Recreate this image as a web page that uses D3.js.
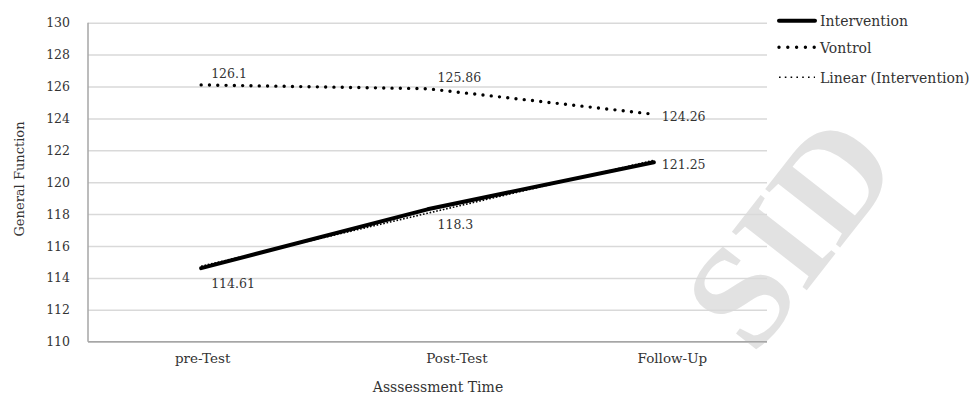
<!DOCTYPE html>
<html>
<head>
<meta charset="utf-8">
<script src="https://cdn.jsdelivr.net/npm/d3@7"></script>
<style>
  body { margin: 0; background: #fff; }
  svg { display: block; }
</style>
</head>
<body>
<svg id="chart" width="978" height="397"></svg>
<script>
// ---- data ----
const categories = ["pre-Test", "Post-Test", "Follow-Up"];
const interventionValues = [114.61, 118.3, 121.25];
const controlValues = [126.1, 125.86, 124.26];
const yTickValues = [110, 112, 114, 116, 118, 120, 122, 124, 126, 128, 130];
const seriesNames = ["Intervention", "Vontrol", "Linear (Intervention)"];
const yAxisTitle = "General Function";
const xAxisTitle = "Asssessment Time";

// least-squares trend of the intervention series over the category index
function linearTrend(values) {
  const xs = values.map((_, i) => i + 1);
  const mx = d3.mean(xs), my = d3.mean(values);
  const slope = d3.sum(xs, (x, i) => (x - mx) * (values[i] - my)) / d3.sum(xs, x => (x - mx) ** 2);
  return xs.map(x => my + slope * (x - mx));
}
const trendValues = linearTrend(interventionValues);

// ---- layout ----
const svg = d3.select("#chart");
const plot = { left: 88, right: 767, top: 22.7, bottom: 341.7 };
const serif = "'DejaVu Serif', 'Liberation Serif', serif";
const textColor = "#333";

const x = d3.scalePoint().domain(categories).range([plot.left, plot.right]).padding(0.5);
const y = d3.scaleLinear().domain([110, 130]).range([plot.bottom, plot.top]);

// faint watermark behind the chart
svg.append("text")
  .attr("transform", "translate(790,232) rotate(-52)")
  .attr("text-anchor", "middle")
  .attr("dominant-baseline", "central")
  .attr("fill", "#e2e2e2")
  .style("font-family", "'Liberation Serif', serif").style("font-weight", "bold").style("font-size", "145px")
  .text("SID");

// gridlines + y tick labels
const yAxis = svg.append("g")
  .attr("transform", `translate(${plot.left},0)`)
  .call(d3.axisLeft(y).tickValues(yTickValues).tickSize(-(plot.right - plot.left)).tickPadding(18).tickFormat(d3.format("d")));
yAxis.select(".domain").remove();
yAxis.selectAll(".tick line").attr("stroke", "#d9d9d9").attr("stroke-width", 1.5);
yAxis.selectAll(".tick text").attr("fill", textColor).style("font-family", serif).style("font-size", "12.5px");

// vertical axis line
svg.append("line").attr("x1", plot.left).attr("x2", plot.left).attr("y1", plot.top).attr("y2", plot.bottom)
  .attr("stroke", "#a6a6a6").attr("stroke-width", 1.5);

// x axis with category labels
const labelShift = [1, 29, 18];
const xAxis = svg.append("g")
  .attr("transform", `translate(0,${plot.bottom})`)
  .call(d3.axisBottom(x).tickSize(0).tickPadding(12));
xAxis.select(".domain").attr("stroke", "#a6a6a6").attr("stroke-width", 1.5)
  .attr("d", `M${plot.left},0H${plot.right}`);
xAxis.selectAll(".tick text")
  .attr("fill", textColor)
  .attr("dx", (d, i) => labelShift[i])
  .style("font-family", serif).style("font-size", "13.5px");

// axis titles
svg.append("text").attr("x", 438).attr("y", 392).attr("text-anchor", "middle")
  .attr("fill", textColor).style("font-family", serif).style("font-size", "14px").text(xAxisTitle);
svg.append("text").attr("transform", "translate(24,179) rotate(-90)").attr("text-anchor", "middle")
  .attr("fill", textColor).style("font-family", serif).style("font-size", "13px").text(yAxisTitle);

// ---- series ----
const styles = [
  { values: interventionValues, width: 4, dash: null, cap: "round", legendDash: null },
  { values: controlValues, width: 3.4, dash: "0 8.3", cap: "round", legendDash: "0 8.8" },
  { values: trendValues, width: 1.6, dash: "1.6 1.8", cap: "butt", legendDash: "1.6 4.2" }
];
const line = d3.line().x((d, i) => x(categories[i])).y(d => y(d));

[styles[1], styles[0], styles[2]].forEach(s => {
  svg.append("path")
    .attr("d", line(s.values))
    .attr("fill", "none")
    .attr("stroke", "#000")
    .attr("stroke-width", s.width)
    .attr("stroke-linecap", s.cap)
    .attr("stroke-linejoin", "round")
    .attr("stroke-dasharray", s.dash);
});

// data labels
const labelPlacement = [
  { values: interventionValues, pos: ["below", "below", "right"] },
  { values: controlValues, pos: ["above", "above", "right"] }
];
labelPlacement.forEach(sp => {
  sp.values.forEach((v, i) => {
    const px = x(categories[i]), py = y(v), p = sp.pos[i];
    svg.append("text")
      .attr("x", p === "right" ? px + 8 : px + 10)
      .attr("y", p === "above" ? py - 6.5 : p === "below" ? py + 20 : py + 6.5)
      .attr("fill", textColor)
      .style("font-family", serif).style("font-size", "12.5px")
      .text(String(v));
  });
});

// legend
const legendRows = [20.7, 47.3, 77.3];
seriesNames.forEach((name, i) => {
  const s = styles[i];
  svg.append("line").attr("x1", 779).attr("x2", 815).attr("y1", legendRows[i]).attr("y2", legendRows[i])
    .attr("stroke", "#000").attr("stroke-width", s.width)
    .attr("stroke-linecap", s.cap).attr("stroke-dasharray", s.legendDash);
  svg.append("text").attr("x", 820).attr("y", legendRows[i] + 5.5)
    .attr("fill", textColor).style("font-family", serif).style("font-size", "14px").text(name);
});
</script>
</body>
</html>
